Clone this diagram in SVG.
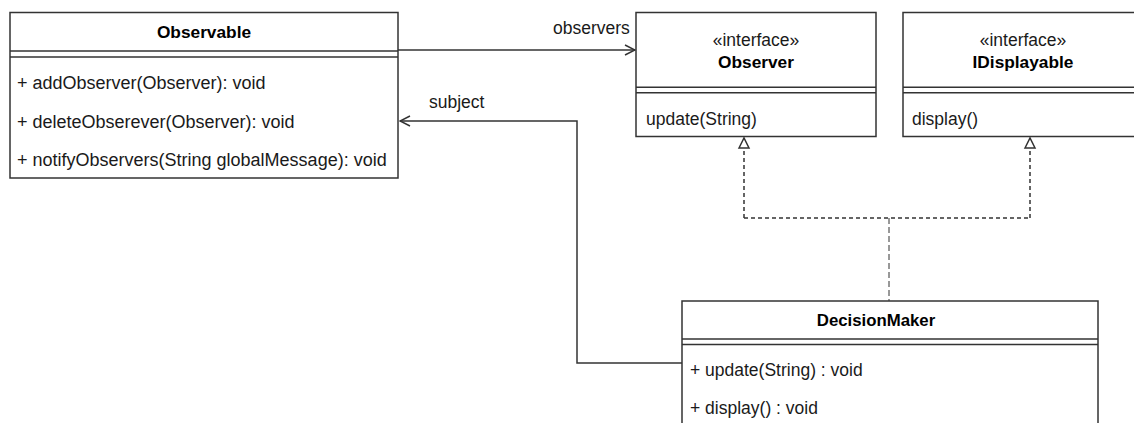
<svg xmlns="http://www.w3.org/2000/svg" width="1134" height="423" viewBox="0 0 1134 423">
  <defs>
    <style>
      .box { fill: #fff; stroke: #333; stroke-width: 1.5; }
      .sep { stroke: #333; stroke-width: 1.5; fill: none; }
      .t { font-family: "Liberation Sans", Arial, sans-serif; font-size: 17.5px; fill: #1a1a1a; }
      .tm { font-family: "Liberation Sans", Arial, sans-serif; font-size: 18px; fill: #1a1a1a; }
      .b { font-family: "Liberation Sans", Arial, sans-serif; font-size: 17.3px; font-weight: bold; fill: #000; }
      .c { text-anchor: middle; }
      .line { stroke: #333; stroke-width: 1.5; fill: none; }
      .dash { stroke: #333; stroke-width: 1.5; fill: none; stroke-dasharray: 4 3; }
      .dash2 { stroke: #333; stroke-width: 1; fill: none; stroke-dasharray: 6 3; }
    </style>
    <marker id="open" markerWidth="12" markerHeight="12" refX="11" refY="6" orient="auto" markerUnits="userSpaceOnUse">
      <path d="M1,1 L11,6 L1,11" fill="none" stroke="#333" stroke-width="1.5"/>
    </marker>
    <marker id="tri" markerWidth="14" markerHeight="14" refX="12" refY="7" orient="auto" markerUnits="userSpaceOnUse">
      <path d="M2,2 L12,7 L2,12 Z" fill="#fff" stroke="#333" stroke-width="1.5"/>
    </marker>
  </defs>

  <g id="connectors">
    <line class="line" x1="398" y1="50" x2="635" y2="50" marker-end="url(#open)"/>
    <polyline class="line" points="682,363 577,363 577,121 400,121" marker-end="url(#open)"/>
    <polyline class="dash" points="744,218 744,138" marker-end="url(#tri)"/>
    <polyline class="dash" points="1030,218 1030,138" marker-end="url(#tri)"/>
    <line class="dash" x1="744" y1="218" x2="1030" y2="218"/>
    <line class="dash2" x1="889" y1="218" x2="889" y2="301"/>
    <text class="t" x="553" y="34">observers</text>
    <text class="t" x="429" y="108">subject</text>
  </g>

  <g id="observable">
    <rect class="box" x="10" y="12.5" width="388" height="165.5"/>
    <line class="sep" x1="10" y1="51" x2="398" y2="51"/>
    <line class="sep" x1="10" y1="57" x2="398" y2="57"/>
    <text class="b c" x="204" y="38">Observable</text>
    <text class="tm" x="17" y="89">+ addObserver(Observer): void</text>
    <text class="tm" x="17" y="128">+ deleteObserever(Observer): void</text>
    <text class="tm" x="17" y="166">+ notifyObservers(String globalMessage): void</text>
  </g>

  <g id="observer">
    <rect class="box" x="636" y="12.5" width="240" height="124"/>
    <line class="sep" x1="636" y1="87.3" x2="876" y2="87.3"/>
    <line class="sep" x1="636" y1="92.7" x2="876" y2="92.7"/>
    <text class="t c" x="756" y="46">«interface»</text>
    <text class="b c" x="756" y="68">Observer</text>
    <text class="t" x="646" y="125">update(String)</text>
  </g>

  <g id="idisplayable">
    <rect class="box" x="903" y="12.5" width="240" height="124"/>
    <line class="sep" x1="903" y1="87.3" x2="1143" y2="87.3"/>
    <line class="sep" x1="903" y1="92.7" x2="1143" y2="92.7"/>
    <text class="t c" x="1023" y="46">«interface»</text>
    <text class="b c" x="1023" y="68">IDisplayable</text>
    <text class="t" x="912" y="125">display()</text>
  </g>

  <g id="decisionmaker">
    <rect class="box" x="682" y="301" width="416" height="140"/>
    <line class="sep" x1="682" y1="339" x2="1098" y2="339"/>
    <line class="sep" x1="682" y1="344.5" x2="1098" y2="344.5"/>
    <text class="b c" x="876" y="326" style="font-size:16.8px">DecisionMaker</text>
    <text class="t" x="690" y="376">+ update(String) : void</text>
    <text class="t" x="690" y="414">+ display() : void</text>
  </g>
</svg>
